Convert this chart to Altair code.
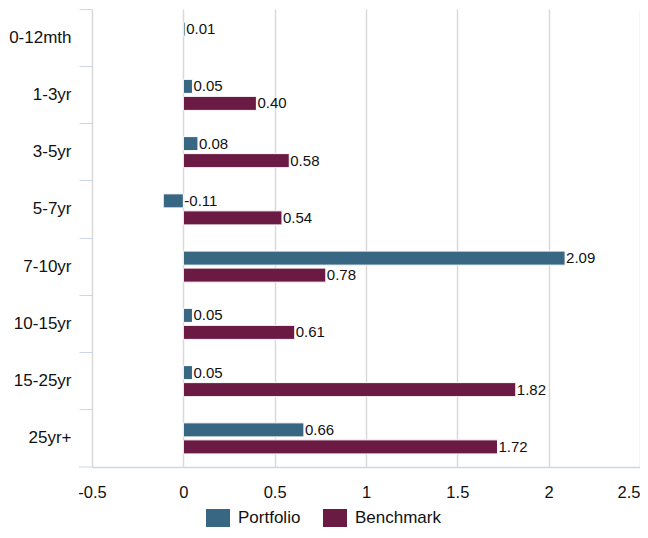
import altair as alt
import pandas as pd

categories = ["0-12mth", "1-3yr", "3-5yr", "5-7yr", "7-10yr", "10-15yr", "15-25yr", "25yr+"]
series = ["Portfolio", "Benchmark"]
portfolio = [0.01, 0.05, 0.08, -0.11, 2.09, 0.05, 0.05, 0.66]
benchmark = [None, 0.40, 0.58, 0.54, 0.78, 0.61, 1.82, 1.72]
colors = ["#376782", "#6b1a43"]
x_ticks = [-0.5, 0, 0.5, 1, 1.5, 2, 2.5]

rows = []
for c, p, b in zip(categories, portfolio, benchmark):
    for s, v in (("Portfolio", p), ("Benchmark", b)):
        if v is not None:
            rows.append({"cat": c, "series": s, "value": v, "label": f"{v:.2f}"})
df = pd.DataFrame(rows)

W, H = 548, 458
FONT = "Liberation Sans"
TXT = "#111111"

y_enc = alt.Y(
    "cat:N", sort=categories,
    scale=alt.Scale(paddingInner=0, paddingOuter=0),
    axis=alt.Axis(
        title=None, bandPosition=0, tickSize=13,
        tickColor="#ccd6eb", tickWidth=1, domain=False, grid=False,
        labelPadding=8, labelFontSize=17, labelColor=TXT, labelFont=FONT,
        minExtent=83, maxExtent=83, labelAlign="right", labelBaseline="middle",
    ),
)
yoff_enc = alt.YOffset(
    "series:N", sort=series,
    scale=alt.Scale(paddingInner=0.176, paddingOuter=0.77),
)

x_enc = alt.X(
    "value:Q",
    scale=alt.Scale(domain=[-0.5, 2.5], nice=False),
    axis=alt.Axis(
        title=None, values=x_ticks, ticks=False, grid=True,
        gridColor="#d9d9d9", gridWidth=1.5, domainColor="#ccd6eb", domainWidth=1.5,
        labelPadding=17, labelFontSize=16.5, labelColor=TXT, labelFont=FONT,
        labelExpr="toString(datum.value)",
        labelAlign={"condition": {"test": "datum.value == 2.5", "value": "right"}, "value": "center"},
    ),
)

bars = alt.Chart(df).mark_bar(stroke="white", strokeWidth=1).encode(
    x=x_enc,
    x2=alt.datum(0),
    y=y_enc,
    yOffset=yoff_enc,
    color=alt.Color(
        "series:N",
        scale=alt.Scale(domain=series, range=colors),
        legend=alt.Legend(
            orient="none", legendX=114, legendY=497, direction="horizontal",
            title=None, symbolType="M-1,-0.75L1,-0.75L1,0.75L-1,0.75Z",
            symbolSize=576, symbolStrokeWidth=0, labelFontSize=17, labelFont=FONT,
            labelColor=TXT, labelOffset=8, columnPadding=22, padding=0,
        ),
    ),
)

labels = alt.Chart(df).transform_calculate(
    lx="max(datum.value, 0)"
).mark_text(
    align="left", baseline="middle", dx=1, fontSize=15, font=FONT, color=TXT
).encode(
    x=alt.X("lx:Q"),
    y=alt.Y("cat:N", sort=categories),
    yOffset=alt.YOffset("series:N", sort=series),
    text="label:N",
)

bottom_tick = alt.Chart(pd.DataFrame({"a": [0]})).mark_rule(
    color="#ccd6eb", strokeWidth=1
).encode(x=alt.value(-13), x2=alt.value(0), y=alt.value(H))

chart = alt.layer(bars, labels, bottom_tick).properties(
    width=W, height=H, padding={"left": 0, "top": 0, "right": 0, "bottom": 0}
).configure_view(stroke=None)

chart.save("out.html", embed_options={"renderer": "svg", "actions": False})
